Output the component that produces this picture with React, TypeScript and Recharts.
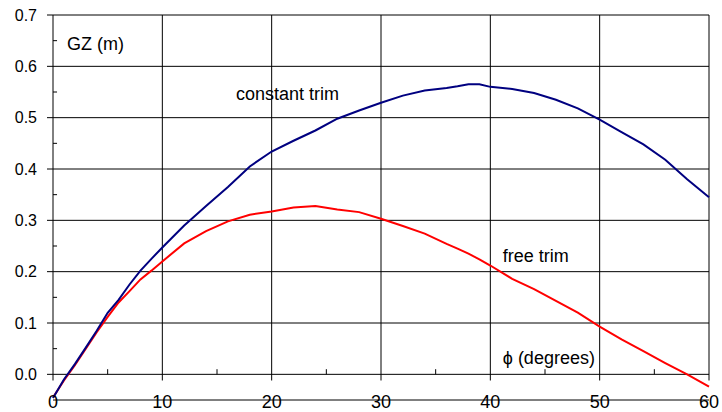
import React from "react";
import {
  LineChart,
  Line,
  XAxis,
  YAxis,
  CartesianGrid,
  ReferenceLine,
  ReferenceDot,
} from "recharts";

// heel angle (degrees)
const ANGLES = [
  0, 1, 2, 3, 4, 5, 6, 7, 8, 9, 10, 12, 14, 16, 18, 20, 22, 24, 26, 28, 30, 32, 34, 36, 37, 38,
  39, 40, 42, 44, 46, 48, 50, 52, 54, 56, 58, 60,
];

// GZ (m) with trim held constant
const CONSTANT_TRIM = [
  -0.046, -0.01, 0.02, 0.052, 0.085, 0.12, 0.145, 0.175, 0.202, 0.225, 0.247, 0.29, 0.328, 0.365,
  0.405, 0.434, 0.455, 0.475, 0.498, 0.514, 0.529, 0.543, 0.553, 0.558, 0.561, 0.565, 0.565,
  0.56, 0.556, 0.548, 0.535, 0.518, 0.496, 0.472, 0.448, 0.418, 0.38, 0.345,
];

// GZ (m) with free trim
const FREE_TRIM = [
  -0.045, -0.012, 0.018, 0.05, 0.082, 0.112, 0.14, 0.162, 0.185, 0.202, 0.22, 0.255, 0.279, 0.298,
  0.311, 0.317, 0.325, 0.328, 0.321, 0.316, 0.303, 0.289, 0.274, 0.254, 0.245, 0.235, 0.224,
  0.212, 0.186, 0.166, 0.143, 0.12, 0.093, 0.068, 0.045, 0.022, 0.0, -0.024,
];

const X_TICKS = [0, 10, 20, 30, 40, 50, 60];
const X_MINOR = [5, 15, 25, 35, 45, 55];
const Y_TICKS = [0, 0.1, 0.2, 0.3, 0.4, 0.5, 0.6, 0.7];
const Y_MINOR = [0.05, 0.15, 0.25, 0.35, 0.45, 0.55, 0.65];

const FONT = "'Liberation Sans', Arial, sans-serif";

const data = ANGLES.map((a, i) => ({
  phi: a,
  constant: CONSTANT_TRIM[i],
  free: FREE_TRIM[i],
}));

function XTick(props: any) {
  const { x, y, payload } = props;
  return (
    <text x={x} y={y} dy={8} textAnchor="middle" fontSize={18} fill="#000" fontFamily={FONT}>
      {payload.value}
    </text>
  );
}

function note(x: number, y: number, text: string) {
  return (
    <ReferenceDot
      key={text}
      x={x}
      y={y}
      r={0}
      fill="none"
      stroke="none"
      label={{ value: text, position: "right", offset: 0, fill: "#000", fontSize: 18 }}
    />
  );
}

export default function App() {
  return (
    <div style={{ position: "absolute", left: 0, top: 0, background: "#fff", fontFamily: FONT }}>
      <LineChart
        width={722}
        height={412}
        data={data}
        margin={{ top: 15, right: 13, bottom: 0, left: 0 }}
      >
        <CartesianGrid vertical={false} stroke="#000" strokeWidth={1} />
        <XAxis
          dataKey="phi"
          type="number"
          domain={[0, 60]}
          ticks={X_TICKS}
          axisLine={false}
          tickLine={false}
          tickSize={0}
          tickMargin={0}
          height={12}
          tick={<XTick />}
        />
        <YAxis
          type="number"
          domain={[-0.05, 0.7]}
          ticks={Y_TICKS}
          tickFormatter={(v: number) => v.toFixed(1)}
          axisLine={false}
          tickLine={{ stroke: "#000" }}
          tickSize={6}
          tickMargin={10}
          width={53}
          tick={{ fill: "#000", fontSize: 16 }}
        />
        {X_TICKS.map((t) => (
          <ReferenceLine
            key={"gx" + t}
            segment={[
              { x: t, y: -0.012 },
              { x: t, y: 0.7 },
            ]}
            stroke="#000"
          />
        ))}
        {X_MINOR.map((t) => (
          <ReferenceLine
            key={"mx" + t}
            segment={[
              { x: t, y: 0 },
              { x: t, y: 0.01 },
            ]}
            stroke="#000"
          />
        ))}
        {Y_MINOR.map((t) => (
          <ReferenceLine
            key={"my" + t}
            segment={[
              { x: 0, y: t },
              { x: 0.37, y: t },
            ]}
            stroke="#000"
          />
        ))}
        <Line
          type="linear"
          dataKey="free"
          stroke="#ff0000"
          strokeWidth={2}
          dot={false}
          isAnimationActive={false}
        />
        <Line
          type="linear"
          dataKey="constant"
          stroke="#000080"
          strokeWidth={2}
          dot={false}
          isAnimationActive={false}
        />
        {note(1.28, 0.645, "GZ (m)")}
        {note(16.74, 0.547, "constant trim")}
        {note(41.14, 0.232, "free trim")}
        {note(41.14, 0.0326, "ϕ (degrees)")}
      </LineChart>
    </div>
  );
}
